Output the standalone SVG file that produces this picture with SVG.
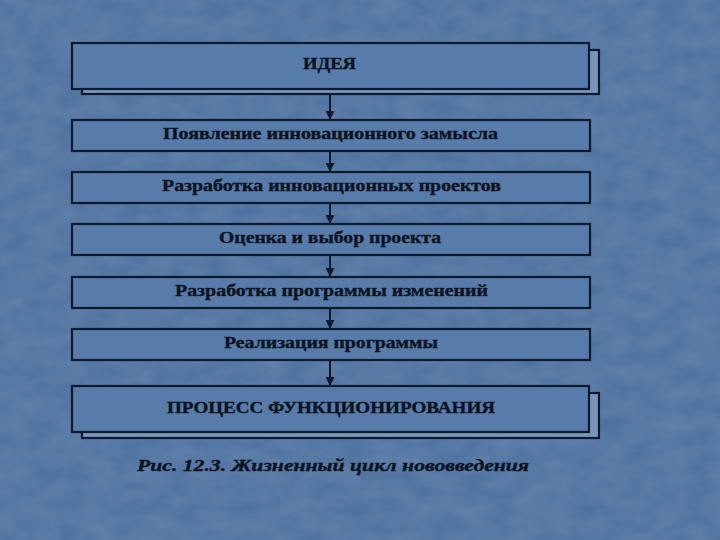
<svg xmlns="http://www.w3.org/2000/svg" width="720" height="540" viewBox="0 0 720 540">
<defs>
<style>
.box{fill:#587ca9;stroke:#0e1a2c;stroke-width:2.2}
.shadow{fill:#7b96b9;stroke:#0e1a2c;stroke-width:2.2}
.lbl{font-family:"Liberation Serif","DejaVu Serif",serif;font-weight:bold;font-size:16px;fill:#0b1320;stroke:#0b1320;stroke-width:0.35}
.cap{font-family:"Liberation Serif","DejaVu Serif",serif;font-weight:bold;font-style:italic;font-size:16px;fill:#0b1320;stroke:#0b1320;stroke-width:0.35}
.conn line{stroke:#0e1a2c;stroke-width:2}
</style>
<marker id="ah" viewBox="0 0 10 10" refX="9" refY="5" markerWidth="10" markerHeight="9" markerUnits="userSpaceOnUse" orient="auto">
<path d="M0,0 L10,5 L0,10 Z" fill="#0e1a2c"/>
</marker>
<filter id="tex" x="0" y="0" width="100%" height="100%">
<feTurbulence type="fractalNoise" baseFrequency="0.035 0.06" numOctaves="3" seed="7" result="n"/>
<feColorMatrix in="n" type="matrix" values="0 0 0 0 1  0 0 0 0 1  0 0 0 0 1  0 0 0 0.14 0"/>
</filter>
</defs>
<rect x="0" y="0" width="720" height="540" fill="#4a6f9e"/>
<rect x="0" y="0" width="720" height="540" filter="url(#tex)"/>

<g id="node-idea">
<rect class="shadow" x="82" y="50" width="517" height="44"/>
<rect class="box" x="72" y="43" width="517" height="46"/>
<text class="lbl" x="303" y="69" textLength="53" lengthAdjust="spacingAndGlyphs">ИДЕЯ</text>
</g>
<g id="node-1">
<rect class="box" x="72" y="120" width="518" height="31"/>
<text class="lbl" x="163" y="139" textLength="335" lengthAdjust="spacingAndGlyphs">Появление инновационного замысла</text>
</g>
<g id="node-2">
<rect class="box" x="72" y="172" width="518" height="31"/>
<text class="lbl" x="162" y="191" textLength="339" lengthAdjust="spacingAndGlyphs">Разработка инновационных проектов</text>
</g>
<g id="node-3">
<rect class="box" x="72" y="224" width="518" height="31"/>
<text class="lbl" x="219" y="243" textLength="222" lengthAdjust="spacingAndGlyphs">Оценка и выбор проекта</text>
</g>
<g id="node-4">
<rect class="box" x="72" y="277" width="518" height="31"/>
<text class="lbl" x="175" y="296" textLength="313" lengthAdjust="spacingAndGlyphs">Разработка программы изменений</text>
</g>
<g id="node-5">
<rect class="box" x="72" y="329" width="518" height="31"/>
<text class="lbl" x="224" y="348" textLength="214" lengthAdjust="spacingAndGlyphs">Реализация программы</text>
</g>
<g id="node-process">
<rect class="shadow" x="82" y="393" width="517" height="45"/>
<rect class="box" x="72" y="386" width="517" height="46"/>
<text class="lbl" x="167" y="413" textLength="328" lengthAdjust="spacingAndGlyphs">ПРОЦЕСС ФУНКЦИОНИРОВАНИЯ</text>
</g>

<g class="conn" id="connectors">
<line x1="330" y1="94" x2="330" y2="119" marker-end="url(#ah)"/>
<line x1="330" y1="151" x2="330" y2="171" marker-end="url(#ah)"/>
<line x1="330" y1="203" x2="330" y2="223" marker-end="url(#ah)"/>
<line x1="330" y1="255" x2="330" y2="276" marker-end="url(#ah)"/>
<line x1="330" y1="308" x2="330" y2="328" marker-end="url(#ah)"/>
<line x1="330" y1="360" x2="330" y2="385" marker-end="url(#ah)"/>
</g>

<text class="cap" x="137" y="471" textLength="392" lengthAdjust="spacingAndGlyphs">Рис. 12.3. Жизненный цикл нововведения</text>
</svg>
